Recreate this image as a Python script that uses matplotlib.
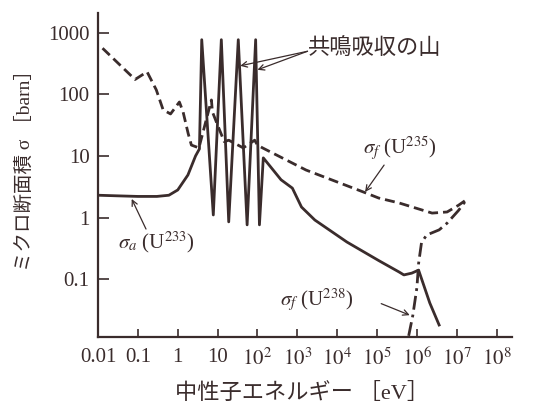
import matplotlib
matplotlib.use("Agg")
import matplotlib.pyplot as plt

plt.rcParams['mathtext.fontset'] = 'stix'
plt.rcParams['font.family'] = ['Liberation Serif', 'Noto Sans CJK JP']

# sigma_a (U238) - solid line
e_abs = [0.01, 0.03, 0.1, 0.3, 0.6, 1.0, 1.8, 2.8, 3.5,
         4.0, 7.8, 12.4, 19, 33, 55, 90, 112, 140,
         390, 750, 1270, 2750, 17500, 1.1e5, 3.6e5, 4.7e5, 7.4e5, 1.1e6, 2.1e6, 3.6e6]
s_abs = [2.3, 2.25, 2.2, 2.2, 2.3, 2.8, 4.9, 10, 13,
         770, 1.1, 770, 0.85, 770, 0.76, 770, 0.76, 9.3,
         4.1, 3.0, 1.48, 0.91, 0.40, 0.2, 0.13, 0.117, 0.125, 0.14, 0.041, 0.018]

# sigma_f (U235) - dashed line
e_f235 = [0.013, 0.085, 0.17, 0.29, 0.43, 0.66, 1.1, 1.36, 1.83, 2.2, 3.4,
          7.0, 7.4, 9.4, 14.7, 19, 44, 85, 100, 134,
          1650, 45000, 1.1e5, 3.6e5, 2.4e6, 5.7e6, 1.1e7, 2e7]
s_f235 = [560, 174, 232, 118, 56, 48, 75, 52, 23, 15, 13.5,
          81, 52, 35, 17, 18, 13.5, 18, 15, 13.5,
          5.9, 2.6, 2.07, 1.72, 1.18, 1.23, 1.58, 2.07]

# sigma_f (U238) - dash-dot line
e_f238 = [6.2e5, 7.9e5, 1e6, 1.1e6, 1.3e6, 1.75e6, 3.6e6, 5.7e6, 1.1e7, 1.7e7]
s_f238 = [0.012, 0.026, 0.074, 0.18, 0.39, 0.52, 0.63, 0.81, 1.3, 1.9]

xticks = [0.01, 0.1, 1, 10, 1e2, 1e3, 1e4, 1e5, 1e6, 1e7, 1e8]
xlabels = ['0.01', '0.1', '1', '10', '$10^2$', '$10^3$', '$10^4$', '$10^5$',
           '$10^6$', '$10^7$', '$10^8$']
yticks = [0.1, 1, 10, 100, 1000]
ylabels = ['0.1', '1', '10', '100', '1000']

col = '#3a2c2c'

fig = plt.figure(figsize=(5.6, 4.15), dpi=100)
ax = fig.add_axes([0.175, 0.188, 0.739, 0.781])

ax.plot(e_abs, s_abs, color=col, lw=2.0, solid_joinstyle='round')
ax.plot(e_f235, s_f235, color=col, lw=2.0, linestyle=(0, (3.6, 1.8)))
ax.plot(e_f238, s_f238, color=col, lw=2.0, linestyle=(0, (5, 1.8, 1, 1.8)))

ax.set_xscale('log')
ax.set_yscale('log')
ax.set_xlim(0.01, 2.4e8)
ax.set_ylim(0.0115, 2100)
ax.set_xticks(xticks)
ax.set_xticklabels(xlabels)
ax.set_yticks(yticks)
ax.set_yticklabels(ylabels)
ax.minorticks_off()
ax.tick_params(axis='x', direction='in', length=6, width=1.2, labelsize=15, pad=8, colors=col)
ax.tick_params(axis='y', direction='in', length=8, width=1.2, labelsize=15, pad=6, colors=col)
for s in ['top', 'right']:
    ax.spines[s].set_visible(False)
for s in ['left', 'bottom']:
    ax.spines[s].set_linewidth(1.6)
    ax.spines[s].set_color(col)

fig.text(0.045, 0.602, 'ミクロ断面積 σ ［barn］', rotation=90, ha='center', va='center',
         fontsize=14, color=col)
fig.text(0.54, 0.053, '中性子エネルギー ［eV］', ha='center', va='center', fontsize=16, color=col)

arr = dict(arrowstyle='->', color=col, lw=0.9, shrinkA=0, shrinkB=0)

ax.text(1860, 525, '共鳴吸収の山', fontsize=16, color=col, ha='left', va='center')
ax.annotate('', xy=(37, 290), xytext=(1800, 500), arrowprops=arr)
ax.annotate('', xy=(100, 250), xytext=(1800, 500), arrowprops=arr)

ax.text(45000, 13.5, '$\\sigma_f$ (U$^{235}$)', fontsize=15, color=col, ha='left', va='center')
ax.annotate('', xy=(50000, 2.6), xytext=(1.5e5, 7.1), arrowprops=arr)

ax.text(0.031, 0.39, '$\\sigma_a$ (U$^{233}$)', fontsize=15, color=col, ha='left', va='center')
ax.annotate('', xy=(0.07, 2.0), xytext=(0.16, 0.65), arrowprops=arr)

ax.text(370, 0.046, '$\\sigma_f$ (U$^{238}$)', fontsize=15, color=col, ha='left', va='center')
ax.annotate('', xy=(6.6e5, 0.026), xytext=(1.27e5, 0.04), arrowprops=arr)

fig.savefig('out.png', dpi=100)
